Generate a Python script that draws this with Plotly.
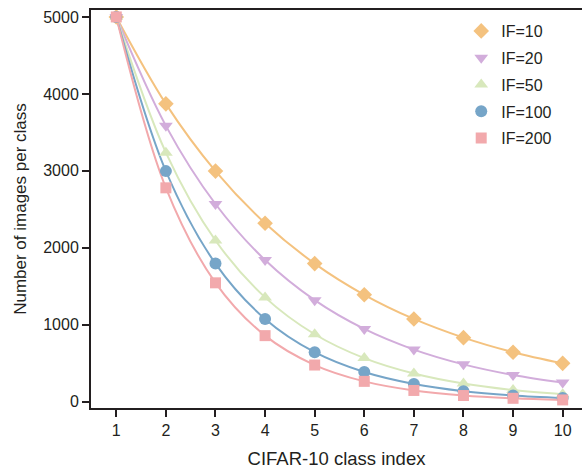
import plotly.graph_objects as go

class_index = [1, 2, 3, 4, 5, 6, 7, 8, 9, 10]
if10 = [5000, 3871, 2997, 2320, 1796, 1391, 1077, 834, 645, 500]
if20 = [5000, 3585, 2570, 1842, 1321, 947, 679, 487, 349, 250]
if50 = [5000, 3237, 2096, 1357, 878, 568, 368, 238, 154, 100]
if100 = [5000, 2997, 1796, 1077, 645, 387, 232, 139, 83, 50]
if200 = [5000, 2780, 1546, 860, 478, 266, 148, 82, 46, 25]

series_names = ["IF=10", "IF=20", "IF=50", "IF=100", "IF=200"]
series_values = [if10, if20, if50, if100, if200]
colors = ["#F4C27F", "#D2ADDB", "#D8E8BC", "#76A5C8", "#F2A9AC"]
symbols = ["diamond", "triangle-down", "triangle-up", "circle", "square"]
sizes = [12, 12, 12, 12, 11]

fig = go.Figure()
for name, vals, c in zip(series_names, series_values, colors):
    fig.add_trace(go.Scatter(
        x=class_index, y=vals, name=name, mode="lines",
        line=dict(color=c, width=2, shape="spline", smoothing=1.0),
        showlegend=False, legendgroup=name,
    ))
for name, vals, c, s, sz in zip(series_names, series_values, colors, symbols, sizes):
    fig.add_trace(go.Scatter(
        x=class_index, y=vals, name=name, mode="markers",
        marker=dict(color=c, symbol=s, size=sz, line=dict(width=0)),
        legendgroup=name,
    ))

font_color = "#231F20"
fig.update_layout(
    width=582, height=475,
    margin=dict(l=91, r=0, t=10, b=67),
    plot_bgcolor="white", paper_bgcolor="white",
    font=dict(family="Liberation Sans, Arial, sans-serif", size=16, color=font_color),
    legend=dict(x=0.754, y=0.99, xanchor="left", yanchor="top",
                font=dict(size=16), tracegroupgap=3, bgcolor="rgba(0,0,0,0)",
                itemwidth=30),
    showlegend=True,
)
fig.update_xaxes(
    range=[0.49, 10.39], tickmode="array", tickvals=class_index,
    ticks="outside", ticklen=7, tickwidth=2, tickcolor=font_color,
    showline=True, linewidth=2, linecolor=font_color, mirror=True,
    showgrid=False, zeroline=False, automargin=False,
    title=dict(text="CIFAR-10 class index", font=dict(size=18.5), standoff=14),
)
fig.update_yaxes(
    range=[-80, 5090], tickmode="array", tickvals=[0, 1000, 2000, 3000, 4000, 5000],
    ticks="outside", ticklen=7, tickwidth=2, tickcolor=font_color,
    showline=True, linewidth=2, linecolor=font_color,
    showgrid=False, zeroline=False, automargin=False,
    title=dict(text="Number of images per class", font=dict(size=17), standoff=12),
)
fig.write_html("out.html", config={"displayModeBar": False},
               post_script="document.body.style.margin='0';")
